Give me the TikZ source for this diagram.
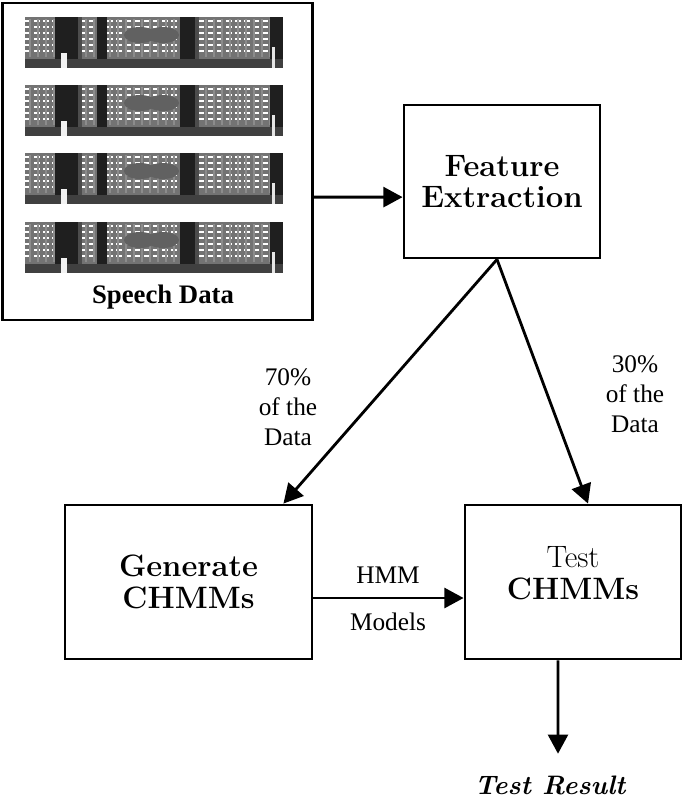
\documentclass[tikz,border=0pt]{standalone}
\usepackage{fontspec}
\newfontfamily\timesfont{Liberation Serif}
\usetikzlibrary{arrows.meta,shapes}

\begin{document}
\begin{tikzpicture}
[x=0.025cm, y=-0.025cm]
\tikzset{
	block/.style = {draw, line width=2pt, align=center, inner sep=0, font=\fontsize{22}{22.5}\selectfont\bfseries},
	arr/.style = {line width=2pt, -{Triangle[length=0.48cm,width=0.5cm]}},
	share/.style = {align=center, font=\timesfont\fontsize{18}{21.5}\selectfont},
	band/.style = {fill=black!88},
	grain/.style = {white!80, line width=1.6pt, dash pattern=on 4pt off 2.5pt}
}

\useasboundingbox (0,0) rectangle (685,798);

\node(speech) [block, minimum width=7.75cm, minimum height=7.925cm] at (157.5,161.5){};

\foreach \sy in {17,85,153,222}{
	\begin{scope}[shift={(25,\sy)}]
		\fill[black!55] (0,0) rectangle (258,51);
		\foreach \ly in {4,10,...,38}
			\draw[grain] (0,\ly) -- (258,\ly);
		\foreach \lx in {5,13,...,253}
			\draw[black!45, line width=1pt] (\lx,2) -- (\lx,40);
		\fill[black!62] (115,18) ellipse (0.4cm and 0.2cm);
		\fill[black!62] (138,18) ellipse (0.4cm and 0.2cm);
		\fill[band] (30,0) rectangle (53,51);
		\fill[black!70] (53,0) rectangle (57,51);
		\fill[band] (72,0) rectangle (82,51);
		\fill[band] (155,0) rectangle (170,51);
		\fill[black!70] (170,0) rectangle (174,51);
		\fill[band] (245,0) rectangle (258,51);
		\fill[black!75] (0,42) rectangle (258,51);
		\fill[white!90!gray] (36,36) rectangle (42,51);
		\fill[white!80!gray] (247,30) rectangle (250,51);
	\end{scope}
}

\node(speechlbl) [font=\timesfont\bfseries\fontsize{19}{22}\selectfont] at (163,297) {Speech Data};

\node(feat) [block, minimum width=4.9cm, minimum height=3.825cm] at (502,181.5) {Feature\\Extraction};
\node(gen) [block, minimum width=6.175cm, minimum height=3.85cm] at (188.5,582) {Generate\\CHMMs};
\node(tst) [block, minimum width=5.4cm, minimum height=3.85cm] at (573,582) {{\mdseries Test}\\CHMMs\\[-0.35cm]};
\node(res) [font=\fontsize{19}{22}\selectfont\bfseries\itshape] at (550,785) {Test Result};

\node(p70) [share] at (288,407) {70\%\\of the\\Data};
\node(p30) [share] at (635,394) {30\%\\of the\\Data};
\node(hmm) [share] at (388,575) {HMM};
\node(models) [share] at (388,622) {Models};

\draw[arr] ([yshift=-0.89cm]speech.east) -- ([yshift=-0.39cm]feat.west);
\draw[arr] ([xshift=-0.125cm]feat.south) -- ([xshift=-0.75cm]gen.north east);
\draw[arr] ([xshift=-0.125cm]feat.south) -- ([xshift=0.375cm]tst.north);
\draw[arr] ([yshift=-0.4cm]gen.east) -- ([yshift=-0.4cm]tst.west);
\draw[arr, shorten >=0.42cm] ([xshift=-0.375cm]tst.south) -- ([xshift=0.2cm]res.north);

\end{tikzpicture}
\end{document}
